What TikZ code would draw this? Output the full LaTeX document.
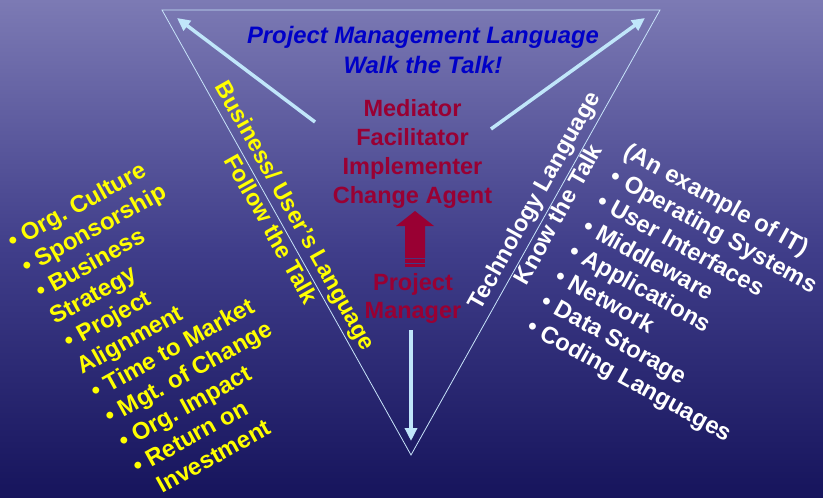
\documentclass[tikz,border=0pt]{standalone}
\usepackage{fontspec}
\setmainfont{Liberation Sans}
\usetikzlibrary{arrows.meta}
\frenchspacing
\definecolor{bgtop}{RGB}{124,122,180}
\definecolor{bgmid}{RGB}{64,62,138}
\definecolor{bgbot}{RGB}{22,20,92}
\definecolor{pmblue}{RGB}{0,0,200}
\definecolor{pmred}{RGB}{153,0,51}
\definecolor{pmyellow}{RGB}{255,255,0}
\definecolor{lineblue}{RGB}{200,228,250}
\definecolor{arrowblue}{RGB}{192,230,250}
\begin{document}
\frenchspacing
\begin{tikzpicture}[x=1pt,y=-1pt,
  every node/.style={inner sep=0pt, outer sep=0pt},
  bigtxt/.style={font=\fontsize{23.5}{29}\selectfont\bfseries, align=center},
  edgetxt/.style={font=\fontsize{23.3}{28}\selectfont\bfseries, align=center},
  listtxt/.style={font=\fontsize{23.8}{28.6}\selectfont\bfseries, align=left},
  langarrow/.style={draw=arrowblue, line width=3.5pt, -{Triangle[length=13pt,width=12pt]}},
  triline/.style={draw=lineblue, line width=0.8pt},
  redarrow/.style={fill=pmred, draw=none}
]
\useasboundingbox (0,0) rectangle (823,498);
\shade[top color=bgtop, bottom color=bgbot, middle color=bgmid] (0,0) rectangle (823,498);

% triangle
\coordinate (tl) at (162,10);
\coordinate (tr) at (660,10);
\coordinate (bt) at (411,455);
\draw[triline] (tl) -- (tr) -- (bt) -- cycle;

% light blue arrows
\coordinate (la0) at (315,122);
\coordinate (la1) at (177,18);
\coordinate (ra0) at (491,129);
\coordinate (ra1) at (645,18);
\coordinate (da0) at (411,330);
\coordinate (da1) at (411,441);
\draw[langarrow] (la0) -- (la1);
\draw[langarrow] (ra0) -- (ra1);
\draw[langarrow] (da0) -- (da1);

% title
\node[bigtxt, font=\fontsize{23.8}{30}\selectfont\bfseries\itshape, text=pmblue] (title) at (423,50)
  {Project Management Language\\Walk the Talk!};

% roles
\node[bigtxt, text=pmred] (roles) at (412.5,153.5)
  {Mediator\\Facilitator\\Implementer\\Change Agent};
\node[bigtxt, font=\fontsize{23.5}{27.5}\selectfont\bfseries, text=pmred] (pm) at (413,298.5)
  {Project\\Manager};

% red block arrow
\coordinate (rt) at (415,211);
\fill[redarrow] (rt) -- (434,226) -- (425,226) -- (425,258) -- (405,258) -- (405,226) -- (396,226) -- cycle;
\fill[redarrow] (405,259.3) rectangle (425,262.6);
\fill[redarrow] (405,263.9) rectangle (425,267);

% edge texts
\node[edgetxt, text=pmyellow, rotate=-60.77] (bizlang) at (284,222)
  {Business/ User's Language\\Follow the Talk};
\node[edgetxt, text=white, rotate=60.77] (techlang) at (545.5,207)
  {Technology Language\\Know the Talk};

% lists (base = baseline of the last line)
\node[listtxt, text=pmyellow, rotate=29, anchor=base west] (bizlist) at (152.3,499.8)
  {\textbullet\ Org. Culture\\
   \textbullet\ Sponsorship\\
   \textbullet\ Business\\
   Strategy\\
   \textbullet\ Project\\
   Alignment\\
   \textbullet\ Time to Market\\
   \textbullet\ Mgt. of Change\\
   \textbullet\ Org. Impact\\
   \textbullet\ Return on\\
   \hspace*{12pt}Investment};
\node[listtxt, text=white, rotate=-29, anchor=base west] (techlist) at (525.8,331.1)
  {(An example of IT)\\
   \textbullet\ Operating Systems\\
   \textbullet\ User Interfaces\\
   \textbullet\ Middleware\\
   \textbullet\ Applications\\
   \textbullet\ Network\\
   \textbullet\ Data Storage\\
   \textbullet\ Coding Languages};
\end{tikzpicture}
\end{document}
